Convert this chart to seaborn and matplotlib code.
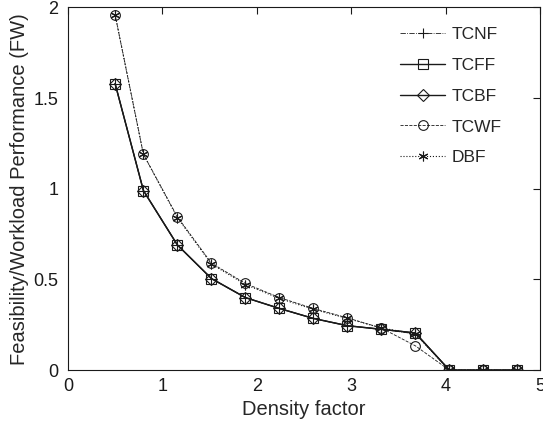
import numpy as np
import pandas as pd
import seaborn as sns
import matplotlib.pyplot as plt

# density factor (x) and feasibility/workload values per algorithm
density = [0.5, 0.8, 1.16, 1.52, 1.88, 2.24, 2.6, 2.96, 3.32, 3.68, 4.04, 4.4, 4.76]
tcnf = [1.58, 0.99, 0.69, 0.505, 0.40, 0.34, 0.285, 0.245, 0.225, 0.20, 0, 0, 0]
tcff = [1.58, 0.99, 0.69, 0.505, 0.40, 0.34, 0.285, 0.245, 0.225, 0.205, 0, 0, 0]
tcbf = [1.58, 0.99, 0.69, 0.505, 0.40, 0.34, 0.285, 0.245, 0.225, 0.205, 0, 0, 0]
tcwf = [1.96, 1.19, 0.845, 0.59, 0.478, 0.40, 0.34, 0.288, 0.232, 0.134, 0, 0, 0]
dbf = [1.96, 1.19, 0.84, 0.585, 0.472, 0.395, 0.335, 0.285, 0.232, 0.20, 0, 0, 0]

sns.set_theme(style='white')
plt.rcParams['font.family'] = ['Liberation Sans', 'DejaVu Sans']

fig = plt.figure(figsize=(5.43, 4.23), dpi=100)
ax = fig.add_axes([0.125, 0.125, 0.8695, 0.8575])

series = [
    ('TCNF', tcnf, '-.', '+', 0.6),
    ('TCFF', tcff, '-', 's', 1.0),
    ('TCBF', tcbf, '-', 'D', 1.0),
    ('TCWF', tcwf, '--', 'o', 0.6),
    ('DBF', dbf, ':', (6, 2, 0), 0.8),
]
for name, vals, ls, mk, lw in series:
    df = pd.DataFrame({'x': density, 'y': vals})
    sns.lineplot(data=df, x='x', y='y', ax=ax, color='k', linestyle=ls, linewidth=lw,
                 marker=mk, markersize=7 if mk != 'D' else 6, markerfacecolor='none',
                 markeredgecolor='k', markeredgewidth=0.8, label=name, legend=False)

ax.set_xlim(0, 5)
ax.set_ylim(0, 2)
ax.set_xticks([0, 1, 2, 3, 4, 5])
ax.set_yticks([0, 0.5, 1, 1.5, 2])
ax.set_yticklabels(['0', '0.5', '1', '1.5', '2'])
ax.tick_params(direction='in', top=True, right=True, length=5, width=0.8,
               labelsize=13, colors='k')
ax.tick_params(axis='x', pad=6)
ax.tick_params(axis='y', pad=7)
for s in ax.spines.values():
    s.set_color('k')
    s.set_linewidth(0.8)

ax.set_xlabel('Density factor', fontsize=14.5, labelpad=3)
ax.set_ylabel('Feasibility/Workload Performance (FW)', fontsize=14.5, labelpad=3)

ax.legend(loc='upper right', bbox_to_anchor=(0.951, 0.989), frameon=False, fontsize=12.5,
          handlelength=2.6, labelspacing=0.9, handletextpad=0.35)

plt.savefig('out.png', dpi=100)
